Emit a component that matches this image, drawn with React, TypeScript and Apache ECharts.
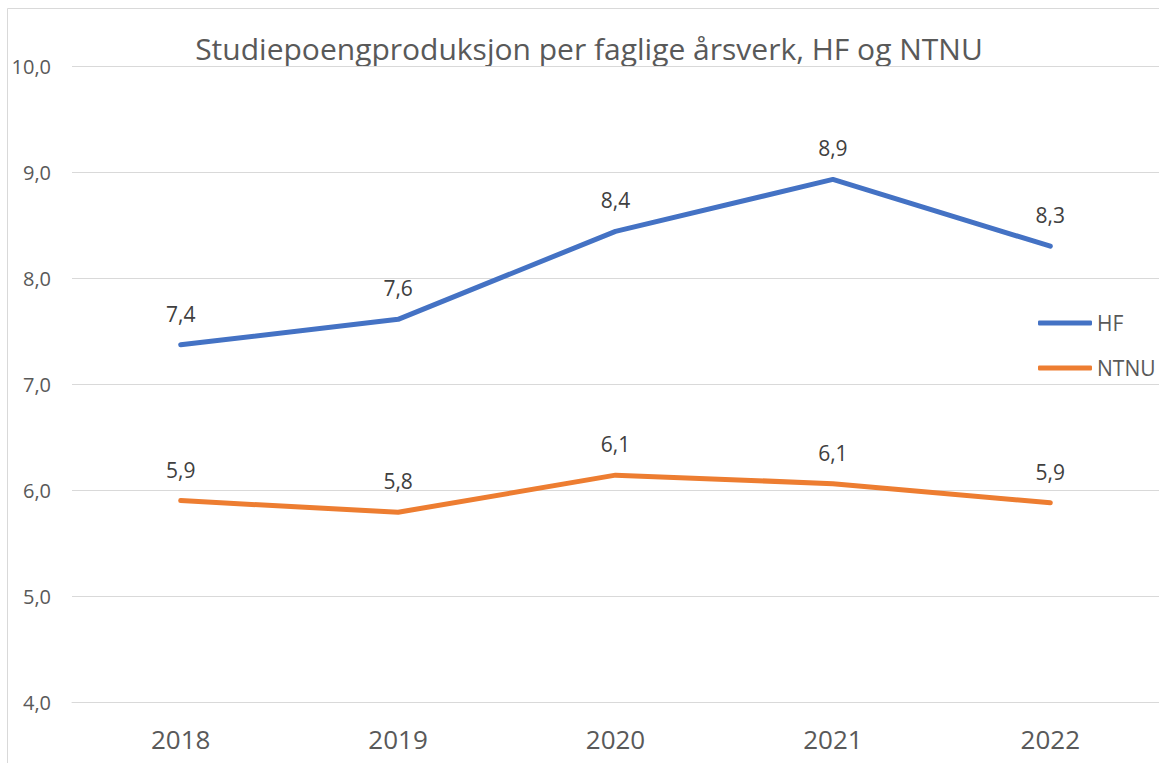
import React, { useEffect, useRef } from "react";
import * as echarts from "echarts";

const years = ["2018", "2019", "2020", "2021", "2022"];
const hfValues = [7.37, 7.61, 8.44, 8.93, 8.3];
const ntnuValues = [5.9, 5.79, 6.14, 6.06, 5.88];
const seriesNames = ["HF", "NTNU"];
const titleText = "Studiepoengproduksjon per faglige årsverk, HF og NTNU";

const FONT = "'Open Sans', sans-serif";
const fmt = (v: number) => v.toFixed(1).replace(".", ",");

export default function App() {
  const ref = useRef<HTMLDivElement>(null);
  useEffect(() => {
    if (!ref.current) return;
    const chart = echarts.init(ref.current, undefined, { renderer: "svg" });
    const labelCfg = {
      show: true,
      position: "top" as const,
      distance: 19,
      fontFamily: FONT,
      fontSize: 21,
      lineHeight: 24,
      color: "#404040",
      formatter: (p: any) => fmt(p.value),
    };
    chart.setOption({
      animation: false,
      backgroundColor: "#ffffff",
      textStyle: { fontFamily: FONT },
      graphic: [
        {
          type: "rect",
          shape: { x: 7.5, y: 8.5, width: 1300, height: 900 },
          style: { fill: "none", stroke: "#d9d9d9", lineWidth: 1 },
          silent: true,
          z: -1,
        },
        {
          type: "text",
          x: 589,
          y: 48,
          style: {
            text: titleText,
            fontFamily: FONT,
            fontSize: 30,
            fill: "#595959",
            textAlign: "center",
            textVerticalAlign: "middle",
          },
        },
      ],
      grid: { left: 72, right: -14, top: 66, bottom: 61, containLabel: false },
      legend: {
        orient: "vertical",
        left: 1033,
        top: 306,
        itemWidth: 54,
        itemHeight: 5,
        itemGap: 21,
        icon: "roundRect",
        data: seriesNames,
        textStyle: { fontFamily: FONT, fontSize: 21, lineHeight: 24, color: "#595959" },
      },
      xAxis: {
        type: "category",
        data: years,
        boundaryGap: true,
        axisLine: { show: true, lineStyle: { color: "#d9d9d9", width: 1 } },
        axisTick: { show: false },
        axisLabel: { fontFamily: FONT, fontSize: 26, color: "#595959", margin: 24 },
      },
      yAxis: {
        type: "value",
        min: 4,
        max: 10,
        interval: 1,
        axisLine: { show: false },
        axisTick: { show: false },
        splitLine: { lineStyle: { color: "#d9d9d9", width: 1 } },
        axisLabel: {
          fontFamily: FONT,
          fontSize: 20,
          color: "#595959",
          margin: 21,
          formatter: (v: number) => fmt(v),
        },
      },
      series: [
        {
          name: seriesNames[0],
          type: "line",
          data: hfValues,
          showSymbol: true,
          symbol: "circle",
          symbolSize: 0,
          lineStyle: { color: "#4472C4", width: 5, cap: "round", join: "round" },
          itemStyle: { color: "#4472C4" },
          label: labelCfg,
        },
        {
          name: seriesNames[1],
          type: "line",
          data: ntnuValues,
          showSymbol: true,
          symbol: "circle",
          symbolSize: 0,
          lineStyle: { color: "#ED7D31", width: 5, cap: "round", join: "round" },
          itemStyle: { color: "#ED7D31" },
          label: labelCfg,
        },
      ],
    });
    return () => chart.dispose();
  }, []);
  return (
    <div
      ref={ref}
      style={{ position: "fixed", left: 0, top: 0, width: 1159, height: 763 }}
    />
  );
}
